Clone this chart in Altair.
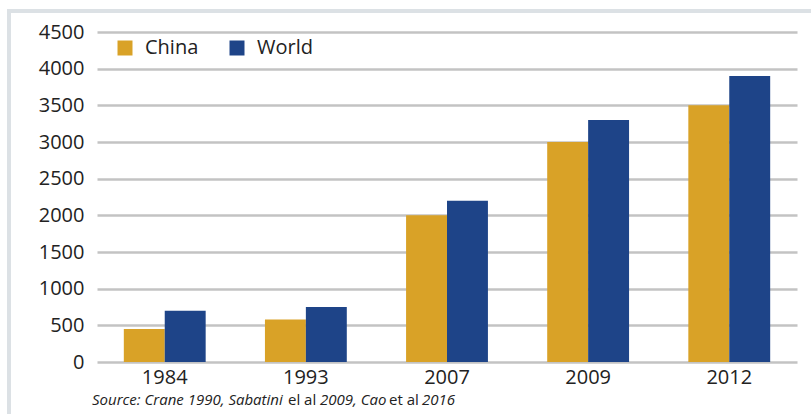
import altair as alt
import pandas as pd

# Values per survey year
years = ["1984", "1993", "2007", "2009", "2012"]
china = [450, 580, 2000, 3000, 3500]
world = [700, 750, 2200, 3300, 3900]

series = ["China", "World"]
colors = ["#d9a227", "#1e4488"]

df = pd.DataFrame(
    [{"year": y, "region": "China", "value": v} for y, v in zip(years, china)]
    + [{"year": y, "region": "World", "value": v} for y, v in zip(years, world)]
)

FONT = "Open Sans"
FRAME = "#dce1e5"

bars = alt.Chart(df).mark_bar().encode(
    x=alt.X(
        "year:N",
        sort=years,
        scale=alt.Scale(paddingInner=0.42, paddingOuter=0.19),
        axis=alt.Axis(
            title=None, labelAngle=0, ticks=False, domain=False, grid=False,
            labelFontSize=20, labelFont=FONT, labelColor="#222222", labelPadding=5,
        ),
    ),
    xOffset=alt.XOffset("region:N", sort=series),
    y=alt.Y(
        "value:Q",
        scale=alt.Scale(domain=[0, 4500], nice=False),
        axis=alt.Axis(
            title=None, values=list(range(0, 4501, 500)), format="d",
            ticks=False, domain=False,
            labelFontSize=20, labelFont=FONT, labelColor="#222222", labelPadding=13,
            gridColor="#c3c3c3", gridWidth=2.5,
        ),
    ),
    color=alt.Color(
        "region:N",
        sort=series,
        scale=alt.Scale(domain=series, range=colors),
        legend=alt.Legend(
            title=None, orient="none", legendX=18, legendY=6, direction="horizontal",
            symbolType="square", symbolSize=225, symbolStrokeWidth=0, symbolOpacity=1,
            labelFontSize=20, labelFont=FONT, labelColor="#222222", labelOffset=10,
            columnPadding=28, padding=0,
        ),
    ),
)

one = alt.Data(values=[{}])

# light grey frame along the top and left edges
frame_top = alt.Chart(one).mark_rule(color=FRAME, strokeWidth=4).encode(
    x=alt.value(-90), x2=alt.value(714), y=alt.value(-21)
)
frame_left = alt.Chart(one).mark_rule(color=FRAME, strokeWidth=4).encode(
    x=alt.value(-88), y=alt.value(-23), y2=alt.value(382)
)

# source line: italic with upright "el al" / "et al"
source_parts = [
    ("Source: Crane 1990, Sabatini", "italic", -5),
    ("el al", "normal", 191),
    ("2009, Cao", "italic", 223),
    ("et al", "normal", 292),
    ("2016", "italic", 325),
]
source_layers = [
    alt.Chart(one).mark_text(
        text=t, fontStyle=s, font=FONT, fontSize=15, color="#222222",
        align="left", baseline="middle",
    ).encode(x=alt.value(x), y=alt.value(368))
    for t, s, x in source_parts
]

chart = alt.layer(bars, frame_top, frame_left, *source_layers).properties(
    width=700,
    height=330,
    padding={"left": 97, "top": 32, "right": 14, "bottom": 52},
    autosize=alt.AutoSizeParams(type="none"),
    background="white",
).configure_view(stroke=None)

chart.save("out.html", embed_options={"renderer": "svg", "actions": False})
